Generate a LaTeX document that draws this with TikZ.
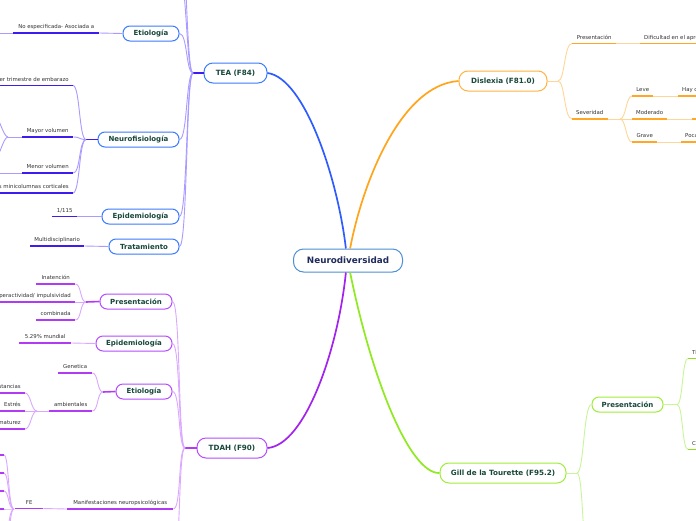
\documentclass[tikz,border=0pt]{standalone}
\usepackage{fontspec}
\setmainfont{DejaVu Sans}
\definecolor{navy}{HTML}{1F2B5C}
\definecolor{nodetxt}{HTML}{17483A}
\definecolor{leaftxt}{HTML}{333333}
\definecolor{cblue}{HTML}{4D8FD6}
\definecolor{teamain}{HTML}{2F5CFF}
\definecolor{teab}{HTML}{3A7BFF}
\definecolor{teau}{HTML}{3C1CF0}
\definecolor{teat}{HTML}{A99BFF}
\definecolor{dxmain}{HTML}{FFA41B}
\definecolor{dxb}{HTML}{FFB340}
\definecolor{dxu}{HTML}{FFA726}
\definecolor{dxt}{HTML}{FFD699}
\definecolor{tdmain}{HTML}{A322EE}
\definecolor{tdb}{HTML}{B54CFF}
\definecolor{tdu}{HTML}{B13BF5}
\definecolor{tdt}{HTML}{DBA8FF}
\definecolor{gtmain}{HTML}{8FEA1F}
\definecolor{gtb}{HTML}{9EEE3A}
\definecolor{gtu}{HTML}{8EE01F}
\definecolor{gtt}{HTML}{C9F59A}
\begin{document}
\begin{tikzpicture}[x=1pt,y=-1pt,
  base/.style={draw, fill=white, rounded corners=7pt, inner sep=0pt, line width=1pt,
    font=\bfseries\fontsize{7}{8}\selectfont, text=nodetxt},
  centre/.style={base, rounded corners=10pt, minimum width=109pt, minimum height=23pt,
    font=\bfseries\fontsize{8.8}{10}\selectfont, text=navy, draw=cblue},
  mainnode/.style={base, rounded corners=9pt, minimum height=20pt, font=\bfseries\fontsize{7.2}{8}\selectfont},
  subnode/.style={base, minimum height=15pt},
  leaf/.style={inner xsep=4pt, inner ysep=2.8pt, text height=4pt, text depth=1.2pt,
    font=\fontsize{5.4}{6}\selectfont, text=leaftxt, minimum width=#1},
  leaf/.default=0pt,
  tmain/.style={line width=1.7pt, draw=teamain},
  tS/.style={line width=1.6pt, draw=teau},
  tT/.style={line width=0.9pt, draw=teat},
  tU/.style={line width=1.8pt, draw=teau},
  dmain/.style={line width=1.7pt, draw=dxmain},
  dT/.style={line width=0.9pt, draw=dxt},
  dU/.style={line width=1.8pt, draw=dxu},
  pmain/.style={line width=1.7pt, draw=tdmain},
  pS/.style={line width=1.6pt, draw=tdu},
  pT/.style={line width=0.9pt, draw=tdt},
  pU/.style={line width=1.8pt, draw=tdu},
  gmain/.style={line width=1.7pt, draw=gtmain},
  gT/.style={line width=0.9pt, draw=gtt},
  gU/.style={line width=1.8pt, draw=gtu}
]
\useasboundingbox (0,0) rectangle (696,520);
\fill[white] (0,0) rectangle (696,520);
\clip (0,0) rectangle (696,520);

% ---------- main nodes ----------
\node[centre] (nd) at (348,260.5) {Neurodiversidad};
\node[mainnode, draw=teab, minimum width=63pt] (tea) at (235.5,73) {TEA (F84)};
\node[mainnode, draw=dxb, minimum width=88pt] (dx) at (503,81) {Dislexia (F81.0)};
\node[mainnode, draw=tdb, minimum width=70pt] (td) at (232,448) {TDAH (F90)};
\node[mainnode, draw=gtb, minimum width=126pt] (gt) at (503,473) {Gill de la Tourette (F95.2)};

% ---------- TEA ----------
\node[subnode, draw=teab, minimum width=56pt] (te1) at (151,33.5) {Etiología};
\node[subnode, draw=teab, minimum width=81pt] (te2) at (138.5,139.5) {Neurofisiología};
\node[subnode, draw=teab, minimum width=77pt] (te3) at (140.5,216.5) {Epidemiología};
\node[subnode, draw=teab, minimum width=70pt] (te4) at (144,246.5) {Tratamiento};

\node[leaf=86pt, anchor=south west] (l1) at (13,33) {No especificada- Asociada a};
\node[leaf, anchor=south east] (l2) at (73,85.5) {Primer trimestre de embarazo};
\node[leaf=51pt, anchor=south west] (l3) at (22,137) {Mayor volumen};
\node[leaf=51pt, anchor=south west] (l4) at (22,173) {Menor volumen};
\node[leaf, anchor=south east] (l5) at (73,193) {Más minicolumnas corticales};
\node[leaf=25pt, anchor=south west] (l6) at (52,216.5) {1/115};
\node[leaf=54pt, anchor=south west] (l7) at (30,246) {Multidisciplinario};

\coordinate (jtea) at (193,73);
\coordinate (jnf) at (86,139.5);
\coordinate (jmv) at (8,137);
\coordinate (tx1) at (179,-25);
\coordinate (tx2) at (179,-70);
\coordinate (l1x) at (-5,33);
\coordinate (mv1) at (-6,115);
\coordinate (mv2) at (-6,160);
\coordinate (mnx) at (-5,173);

\draw[tmain] (nd.100) .. controls (338,180) and (305,78) .. (tea.east);
\draw[tS] (tea.west) -- (jtea);
\foreach \n in {te1,te2,te3,te4} \draw[tT] (jtea) .. controls +(-7,0) and +(8,0) .. (\n.east);
\foreach \n in {tx1,tx2} \draw[tT] (jtea) .. controls +(-7,0) and +(8,0) .. (\n);
\draw[tT] (te1.west) -- (l1.south east);
\draw[tT] (l1.south west) -- (l1x);
\draw[tS] (te2.west) -- (jnf);
\foreach \n in {l2,l3,l4,l5} \draw[tT] (jnf) .. controls +(-7,0) and +(7,0) .. (\n.south east);
\draw[tT] (l3.south west) -- (jmv);
\foreach \n in {mv1,mv2} \draw[tT] (jmv) .. controls +(-5,0) and +(5,0) .. (\n);
\draw[tT] (l4.south west) -- (mnx);
\draw[tT] (te3.west) -- (l6.south east);
\draw[tT] (te4.west) -- (l7.south east);
\foreach \n in {l1,l2,l3,l4,l5,l6,l7} \draw[tU] (\n.south west) -- (\n.south east);

% ---------- TDAH ----------
\node[subnode, draw=tdb, minimum width=72pt] (td1) at (136,301.5) {Presentación};
\node[subnode, draw=tdb, minimum width=76pt] (td2) at (134,343.5) {Epidemiología};
\node[subnode, draw=tdb, minimum width=56pt] (td3) at (144,391.5) {Etiología};

\node[leaf=39pt, anchor=south west] (m1) at (36,284) {Inatención};
\node[leaf, anchor=south east] (m2) at (75,302) {Hiperactividad/ impulsividad};
\node[leaf=39pt, anchor=south west] (m3) at (36,320) {combinada};
\node[leaf=52pt, anchor=south west] (m4) at (19,343) {5.29\% mundial};
\node[leaf=34pt, anchor=south west] (m5) at (58,373) {Genetica};
\node[leaf=43pt, anchor=south west] (m6) at (49,411) {ambientales};
\node[leaf, anchor=south east] (m7) at (25,393) {Sustancias};
\node[leaf, anchor=south east] (m8) at (25,411) {Estrés};
\node[leaf, anchor=south east] (m9) at (25,429) {Prematurez};
\node[leaf=106pt, anchor=south west] (m10) at (67,509) {Manifestaciones neuropsicológicas};
\node[leaf=28pt, anchor=south west] (m11) at (15,508.5) {FE};

\coordinate (jtd) at (185,448);
\coordinate (jpr) at (86,302);
\coordinate (jet) at (103,392);
\coordinate (jamb) at (37,411);
\coordinate (jfe) at (14,509);
\coordinate (tdx) at (173,565);
\coordinate (fe1) at (4,455);   \coordinate (fe1l) at (-20,455);
\coordinate (fe2) at (4,473);   \coordinate (fe2l) at (-20,473);
\coordinate (fe3) at (4,491);   \coordinate (fe3l) at (-20,491);
\coordinate (fe4) at (4,509);   \coordinate (fe4l) at (-20,509);
\coordinate (fe5) at (4,540);
\coordinate (fe6) at (4,570);

\draw[pmain] (nd.-100) .. controls (338,350) and (305,445) .. (td.east);
\draw[pS] (td.west) -- (jtd);
\foreach \n in {td1,td2,td3} \draw[pT] (jtd) .. controls +(-7,0) and +(8,0) .. (\n.east);
\draw[pT] (jtd) .. controls +(-7,0) and +(8,0) .. (m10.south east);
\draw[pT] (jtd) .. controls +(-7,0) and +(8,0) .. (tdx);
\draw[pS] (td1.west) -- (jpr);
\foreach \n in {m1,m2,m3} \draw[pT] (jpr) .. controls +(-6,0) and +(6,0) .. (\n.south east);
\draw[pT] (td2.west) -- (m4.south east);
\draw[pS] (td3.west) -- (jet);
\foreach \n in {m5,m6} \draw[pT] (jet) .. controls +(-6,0) and +(6,0) .. (\n.south east);
\draw[pT] (m6.south west) -- (jamb);
\foreach \n in {m7,m8,m9} \draw[pT] (jamb) .. controls +(-6,0) and +(6,0) .. (\n.south east);
\draw[pT] (m10.south west) -- (m11.south east);
\foreach \n in {fe1,fe2,fe3,fe4,fe5,fe6} \draw[pT] (jfe) .. controls +(-6,0) and +(5,0) .. (\n);
\foreach \n in {fe1,fe2,fe3,fe4} \draw[pU] (\n l) -- (\n);
\foreach \n in {m1,m2,m3,m4,m5,m6,m7,m8,m9,m10,m11} \draw[pU] (\n.south west) -- (\n.south east);

% ---------- Dislexia ----------
\node[leaf=44pt, anchor=south west] (d1) at (572,43.5) {Presentación};
\node[leaf, anchor=south west] (d2) at (640,43.5) {Dificultad en el aprendizaje};
\node[leaf=35pt, anchor=south west] (d3) at (572,119) {Severidad};
\node[leaf=21pt, anchor=south west] (d4) at (632,96) {Leve};
\node[leaf, anchor=south west] (d5) at (678,96) {Hay dificultades};
\node[leaf=35pt, anchor=south west] (d6) at (632,119) {Moderado};
\node[leaf=25pt, anchor=south west] (d8) at (632,142) {Grave};
\node[leaf, anchor=south west] (d9) at (681,142) {Poca dificultad};

\coordinate (jdx) at (558,81);
\coordinate (jsev) at (620,119);
\coordinate (d7) at (692,119);
\coordinate (d7r) at (720,119);

\draw[dmain] (nd.80) .. controls (362,185) and (400,85) .. (dx.west);
\draw[dT] (dx.east) -- (jdx);
\foreach \n in {d1,d3} \draw[dT] (jdx) .. controls +(7,0) and +(-8,0) .. (\n.south west);
\draw[dT] (d1.south east) -- (d2.south west);
\draw[dT] (d3.south east) -- (jsev);
\foreach \n in {d4,d6,d8} \draw[dT] (jsev) .. controls +(6,0) and +(-6,0) .. (\n.south west);
\draw[dT] (d4.south east) -- (d5.south west);
\draw[dT] (d6.south east) -- (d7);
\draw[dT] (d8.south east) -- (d9.south west);
\draw[dU] (d7) -- (d7r);
\foreach \n in {d1,d2,d3,d4,d5,d6,d8,d9} \draw[dU] (\n.south west) -- (\n.south east);

% ---------- Tourette ----------
\node[subnode, draw=gtb, minimum width=71pt] (g1) at (627.5,404.5) {Presentación};
\node[leaf, anchor=south west] (g2) at (688,358.5) {Tics};
\node[leaf, anchor=south west] (g3) at (688,449.5) {Comorbilidad};

\coordinate (jgt) at (577,473);
\coordinate (jgp) at (677,404.5);
\coordinate (gtx) at (590,570);

\draw[gmain] (nd.-80) .. controls (372,380) and (410,474) .. (gt.west);
\draw[gT] (gt.east) -- (jgt);
\draw[gT] (jgt) .. controls +(7,0) and +(-8,0) .. (g1.west);
\draw[gT] (jgt) .. controls +(7,0) and +(-8,0) .. (gtx);
\draw[gT] (g1.east) -- (jgp);
\foreach \n in {g2,g3} \draw[gT] (jgp) .. controls +(6,0) and +(-6,0) .. (\n.south west);
\foreach \n in {g2,g3} \draw[gU] (\n.south west) -- (\n.south east);
\end{tikzpicture}
\end{document}
